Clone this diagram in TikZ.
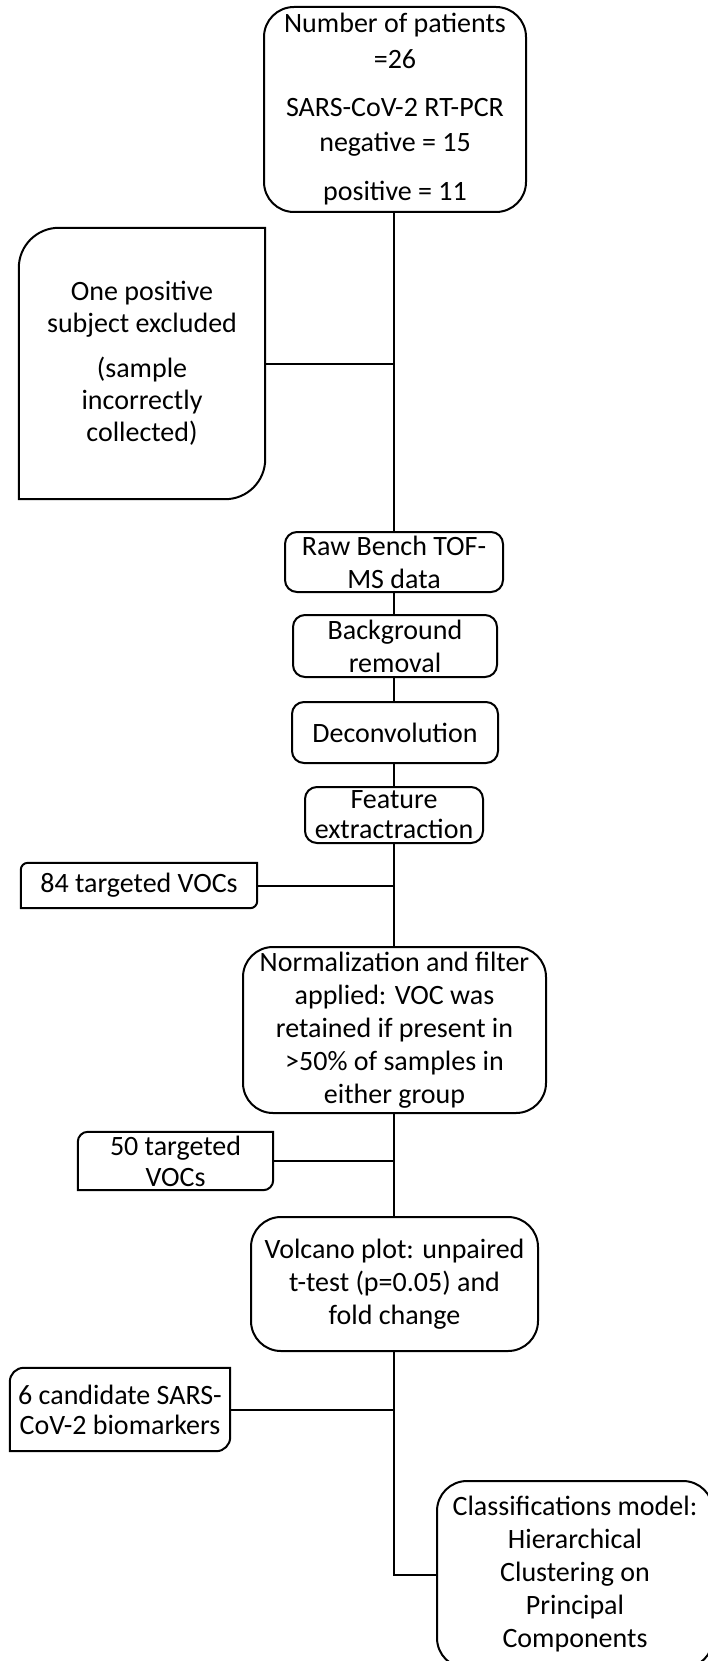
\documentclass[tikz,border=0pt]{standalone}
\usepackage{fontspec}
\setmainfont{Carlito}
\newcommand{\diagframe}[2]{%
  \draw[link] (#1.south west) -- ([yshift=-#2]#1.north west)
    arc[start angle=180,end angle=90,radius=#2] -- (#1.north east)
    -- ([yshift=#2]#1.south east)
    arc[start angle=0,end angle=-90,radius=#2] -- cycle;}
\tikzset{
  boxbase/.style={inner sep=0pt, align=center, font=\fontsize{28}{33}\selectfont},
  rbox/.style={boxbase, draw, line width=2pt, rounded corners=#1},
  rbox/.default=12pt,
  link/.style={line width=2pt},
}
\begin{document}
\begin{tikzpicture}[x=1pt,y=1pt]
\useasboundingbox (0,0) rectangle (708,-1661);
\coordinate (spine) at (394,0);
% main column
\node[rbox=30pt, minimum width=262pt, minimum height=205pt] (top) at (395,-109.5)
  {Number of patients\\[3pt]=26\\[15pt]SARS-CoV-2 RT-PCR\\[2pt]negative = 15\\[16pt]positive = 11};
\node[rbox, minimum width=218pt, minimum height=60pt] (raw) at (394,-562)
  {Raw Bench TOF-\\MS data};
\node[rbox, minimum width=204pt, minimum height=62pt] (bg) at (395,-646)
  {Background\\removal};
\node[rbox, minimum width=206pt, minimum height=61pt] (dec) at (395,-732.5)
  {Deconvolution};
\node[rbox, minimum width=178pt, minimum height=56pt, font=\fontsize{28}{30}\selectfont] (feat) at (394,-815)
  {Feature\\extractraction};
\node[rbox=30pt, minimum width=303pt, minimum height=166pt] (norm) at (394.5,-1030)
  {Normalization and filter\\applied: VOC was\\retained if present in\\>50\% of samples in\\either group};
\node[rbox=30pt, minimum width=287pt, minimum height=134pt] (vol) at (394.5,-1284)
  {Volcano plot: unpaired\\t-test (p=0.05) and\\fold change};
\node[rbox=30pt, minimum width=276pt, minimum height=187pt] (cls) at (575,-1574.5)
  {Classifications model:\\Hierarchical\\Clustering on\\Principal\\Components};
% side boxes
\node[boxbase, minimum width=246pt, minimum height=271pt, font=\fontsize{28}{32}\selectfont] (exc) at (142,-363.5)
  {One positive\\subject excluded\\[13pt](sample\\incorrectly\\collected)};
\diagframe{exc}{40pt}
\node[boxbase, minimum width=236pt, minimum height=45pt] (v84) at (139,-885.5)
  {84 targeted VOCs};
\diagframe{v84}{7pt}
\node[boxbase, minimum width=195pt, minimum height=58pt, font=\fontsize{28}{31}\selectfont] (v50) at (175.5,-1161)
  {50 targeted\\VOCs};
\diagframe{v50}{10pt}
\node[boxbase, minimum width=220pt, minimum height=83pt, font=\fontsize{28}{30}\selectfont] (cand) at (120,-1409.5)
  {6 candidate SARS-\\CoV-2 biomarkers};
\diagframe{cand}{14pt}
% connectors
\draw[link] (top.south -| spine) -- (raw.north -| spine);
\draw[link] (raw.south -| spine) -- (bg.north -| spine);
\draw[link] (bg.south -| spine) -- (dec.north -| spine);
\draw[link] (dec.south -| spine) -- (feat.north -| spine);
\draw[link] (feat.south -| spine) -- (norm.north -| spine);
\draw[link] (norm.south -| spine) -- (vol.north -| spine);
\draw[link] (vol.south -| spine) |- (cls.west);
\draw[link] (exc.east) -- (exc.east -| spine);
\draw[link] (v84.east) -- (v84.east -| spine);
\draw[link] (v50.east) -- (v50.east -| spine);
\draw[link] (cand.east) -- (cand.east -| spine);
\end{tikzpicture}
\end{document}
